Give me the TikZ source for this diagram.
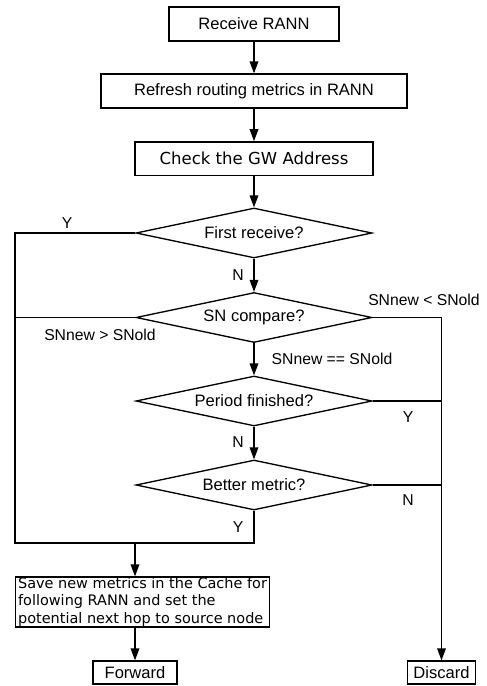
\documentclass[tikz,border=0pt]{standalone}
\usepackage{fontspec}
\setmainfont{Liberation Sans}
\newfontfamily\verd{DejaVu Sans}
\usetikzlibrary{shapes.geometric,arrows.meta}

\tikzset{
  every picture/.style={x=0.75pt,y=-0.75pt},
  flow/.style={line width=1pt,draw=black},
  arr/.style={flow,-{Triangle[length=9pt,width=6.5pt]}},
  stepbox/.style={draw,line width=1pt,rectangle,inner sep=0pt,
    font=\fontsize{12.4}{14}\selectfont},
  decision/.style={draw,line width=1pt,diamond,aspect=4.72,inner sep=0pt,
    minimum width=177pt,minimum height=37.5pt,
    font=\fontsize{12.4}{14}\selectfont},
  lbl/.style={inner sep=0pt,font=\fontsize{11.8}{14}\selectfont},
}

\begin{document}
\begin{tikzpicture}
\useasboundingbox (0,0) rectangle (486,686);

% process steps
\node[stepbox,minimum width=127.5pt,minimum height=25.5pt] (recv) at (254,24) {Receive RANN};
\node[stepbox,minimum width=229.5pt,minimum height=25.5pt] (refresh) at (254,91) {Refresh routing metrics in RANN};
\node[stepbox,minimum width=178.5pt,minimum height=25pt,font=\verd\fontsize{12.4}{14}\selectfont] (check) at (254,158.5) {Check the GW Address};

% decisions
\node[decision] (first) at (254,233) {First receive?};
\node[decision] (sn) at (254,317.5) {SN compare?};
\node[decision] (period) at (254,401) {Period finished?};
\node[decision] (better) at (254,485) {Better metric?};

% outcomes
\node[stepbox,anchor=west,minimum height=37.5pt,align=left,
  inner xsep=1.8pt,font=\verd\fontsize{10.85}{13.1}\selectfont] (save) at (15,602)
  {Save new metrics in the Cache for\\following RANN and set the\\potential next hop to source node};
\node[stepbox,minimum width=63pt,minimum height=17.25pt] (fwd) at (135,672.5) {Forward};
\node[stepbox,minimum width=51pt,minimum height=17.25pt] (disc) at (441.5,672.5) {Discard};

% routing corners
\coordinate (lx) at (15,0);
\coordinate (merge) at (135,543);

% main column
\draw[arr] (recv) -- (refresh);
\draw[arr] (refresh) -- (check);
\draw[arr] (check) -- (first);
\draw[arr] (first) -- (sn);
\draw[arr] (sn) -- (period);
\draw[arr] (period) -- (better);

% accept branch on the left
\draw[flow] (first.west) -- (first.west -| lx) |- (better.south |- merge) -- (better.south);
\draw[flow] (sn.west) -- (sn.west -| lx);
\draw[arr] (merge) -- (merge |- save.north);
\draw[arr] (save.south -| fwd.north) -- (fwd.north);

% discard branch on the right
\draw[arr] (sn.east) -| (disc.north);
\draw[flow] (period.east) -- (period.east -| disc.north);
\draw[flow] (better.east) -- (better.east -| disc.north);

% branch labels
\node[lbl] (ly1) at (67,223) {Y};
\node[lbl] (ln1) at (238,275) {N};
\node[lbl] (llt) at (424,300) {SNnew < SNold};
\node[lbl] (lgt) at (100,335) {SNnew > SNold};
\node[lbl] (leq) at (332,359) {SNnew == SNold};
\node[lbl] (ly2) at (408,417) {Y};
\node[lbl] (ln2) at (238,442) {N};
\node[lbl] (ln3) at (408,500) {N};
\node[lbl] (ly3) at (238,527) {Y};
\end{tikzpicture}
\end{document}
